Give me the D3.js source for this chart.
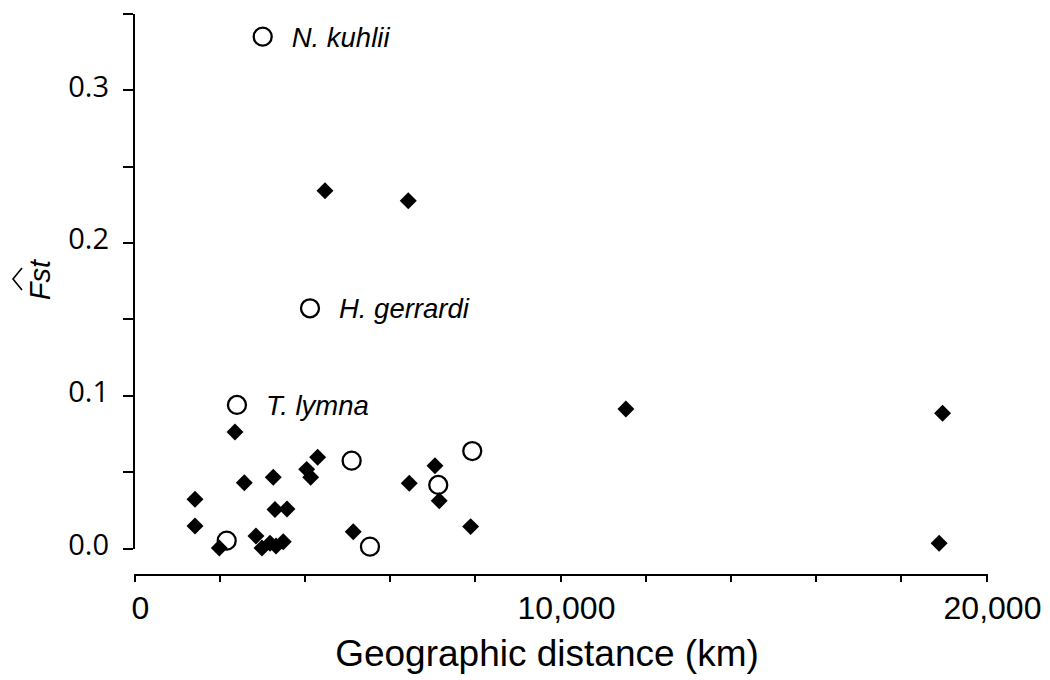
<!DOCTYPE html>
<html lang="en">
<head>
    <meta charset="UTF-8">
    <title>Fst vs geographic distance</title>
    <script src="https://d3js.org/d3.v7.min.js"></script>
    <style>
        body { margin: 0; background: #fff; }
        .axis path, .axis line { fill: none; stroke: #000; stroke-width: 2; shape-rendering: crispEdges; }
        .axis--x text { font-family: "Liberation Sans", Arial, sans-serif; font-size: 32px; fill: #000; }
        .axis--y text { font-family: "Open Sans", sans-serif; font-size: 29px; fill: #000; }
        .title { font-family: "Liberation Sans", Arial, sans-serif; font-size: 37px; text-anchor: middle; }
        .sp-label { font-family: "Liberation Sans", Arial, sans-serif; font-size: 27.5px; font-style: italic; }
    </style>
</head>
<body>
<svg id="chart" width="1050" height="680"></svg>
<script>
    // filled diamonds: pairwise comparisons
    var diamondDist = [4483, 6438, 11547, 18980, 18900, 2370, 1432, 1432, 2589, 3269,
                       4311, 4053, 4147, 3309, 3591, 2002, 2863, 3004, 3192, 3333,
                       3504, 5147, 6461, 7065, 7165, 7902];
    var diamondFst  = [0.234, 0.2275, 0.091, 0.0882, 0.0031, 0.076, 0.0319, 0.0144, 0.0428, 0.0463,
                       0.0594, 0.0515, 0.0463, 0.0252, 0.0255, 0.0, 0.0079, 0.0, 0.0031, 0.0013,
                       0.0041, 0.0107, 0.0424, 0.0539, 0.031, 0.014];

    // open circles: species
    var circleDist  = [3021, 4131, 2417, 5109, 7940, 7142, 2176, 5539];
    var circleFst   = [0.3349, 0.157, 0.0937, 0.0572, 0.0635, 0.0413, 0.0048, 0.0009];
    var circleLabel = ["N. kuhlii", "H. gerrardi", "T. lymna", "", "", "", "", ""];

    var xTicks = [0, 2000, 4000, 6000, 8000, 10000, 12000, 14000, 16000, 18000, 20000];
    var xTickLabels = ["0", "", "", "", "", "10,000", "", "", "", "", "20,000"];
    var yTicks = [0, 0.05, 0.1, 0.15, 0.2, 0.25, 0.3, 0.35];
    var yTickLabels = ["0.0", "", "0.1", "", "0.2", "", "0.3", ""];

    var svg = d3.select("#chart");

    var x = d3.scaleLinear().domain([0, 20000]).range([134, 986]),
        y = d3.scaleLinear().domain([0, 0.35]).range([548, 13.6]);

    // x axis sits a bit below the y axis origin
    var gx = svg.append("g")
        .attr("class", "axis axis--x")
        .attr("transform", "translate(0,574)")
        .call(d3.axisBottom(x).tickValues(xTicks).tickSize(8).tickSizeOuter(0)
            .tickFormat(function(d, i) { return xTickLabels[i]; }));
    gx.selectAll("text").attr("y", 22).attr("dy", "0.71em").attr("dx", 6);

    var gy = svg.append("g")
        .attr("class", "axis axis--y")
        .attr("transform", "translate(133,0)")
        .call(d3.axisLeft(y).tickValues(yTicks).tickSize(10).tickSizeOuter(0)
            .tickFormat(function(d, i) { return yTickLabels[i]; }));
    gy.selectAll("text").attr("x", -24).attr("dy", "0.21em");

    // axis titles
    svg.append("text")
        .attr("class", "title")
        .attr("x", 547)
        .attr("y", 666)
        .text("Geographic distance (km)");

    var yl = svg.append("g").attr("transform", "translate(50,280) rotate(-90)");
    yl.append("text")
        .attr("text-anchor", "middle")
        .style("font-family", "Liberation Sans, Arial, sans-serif")
        .style("font-style", "italic")
        .style("font-size", "29px")
        .text("Fst");
    yl.append("path")
        .attr("d", "M-10,-28 L1,-37 L12,-28")
        .attr("fill", "none")
        .attr("stroke", "#000")
        .attr("stroke-width", 1.6);

    // circles (drawn first, diamonds sit on top)
    var circles = d3.range(circleDist.length);
    svg.selectAll(".sp")
        .data(circles)
        .enter().append("circle")
        .attr("class", "sp")
        .attr("cx", function(i) { return x(circleDist[i]); })
        .attr("cy", function(i) { return y(circleFst[i]); })
        .attr("r", 9)
        .attr("fill", "#fff")
        .attr("stroke", "#000")
        .attr("stroke-width", 2.3);

    svg.selectAll(".sp-label")
        .data(circles.filter(function(i) { return circleLabel[i] !== ""; }))
        .enter().append("text")
        .attr("class", "sp-label")
        .attr("x", function(i) { return x(circleDist[i]) + 29; })
        .attr("y", function(i) { return y(circleFst[i]); })
        .attr("dy", "0.36em")
        .text(function(i) { return circleLabel[i]; });

    var diamond = d3.symbol().type(d3.symbolSquare).size(144);
    svg.selectAll(".pair")
        .data(d3.range(diamondDist.length))
        .enter().append("path")
        .attr("class", "pair")
        .attr("d", diamond)
        .attr("transform", function(i) {
            return "translate(" + x(diamondDist[i]) + "," + y(diamondFst[i]) + ") rotate(45)";
        })
        .attr("fill", "#000");
</script>
</body>
</html>
